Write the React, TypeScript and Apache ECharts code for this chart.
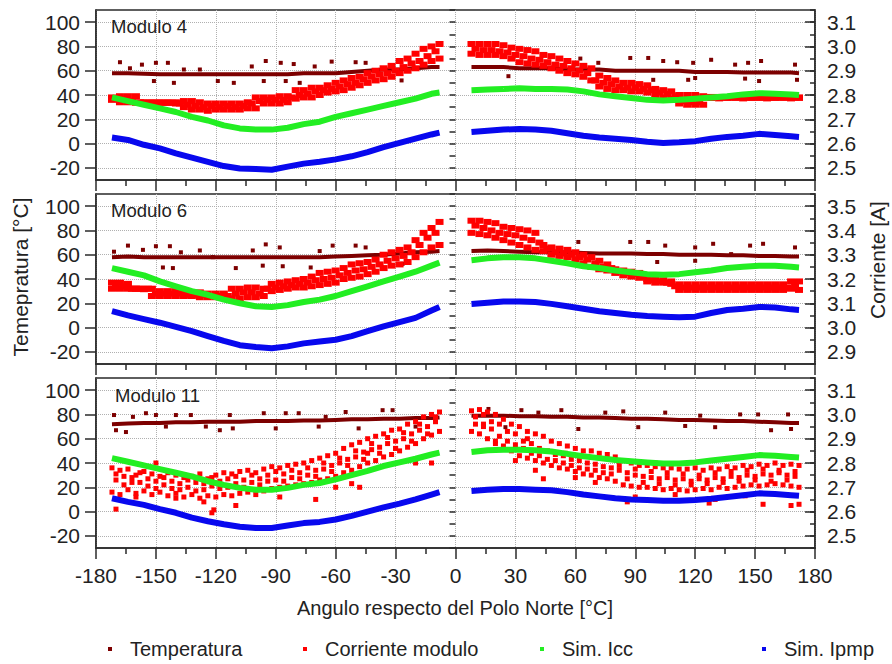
import React, { useEffect, useRef } from "react";
import * as echarts from "echarts";

const FONT = "'Liberation Sans', Arial, Helvetica, sans-serif";

// ---------- x positions (degrees from the North Pole) ----------
const xLine = [-172,-164,-156,-148,-140,-132,-124,-116,-108,-100,-92,-84,-76,-68,-60,-52,-44,-36,-28,-20,-12,-8,
  8,16,24,32,40,48,56,64,72,80,88,96,104,112,120,128,136,144,152,160,168,172];
const xsA = [-172,-168,-164,-160,-156,-152,-148,-144,-140,-136,-132,-128,-124,-120,-116,-112,-108,-104,-100,-96,-92,-88,-84,-80,-76,-72,-68,-64,-60,-56,-52,-48,-44,-40,-36,-32,-28,-24,-20,-16,-12,-8,
  8,12,16,20,24,28,32,36,40,44,48,52,56,60,64,68,72,76,80,84,88,92,96,100,104,108,112,116,120,124,128,132,136,140,144,148,152,156,160,164,168,172];
const xsB = [-170,-166,-162,-158,-154,-150,-146,-142,-138,-134,-130,-126,-122,-118,-114,-110,-106,-102,-98,-94,-90,-86,-82,-78,-74,-70,-66,-62,-58,-54,-50,-46,-42,-38,-34,-30,-26,-22,-18,-14,-10,
  10,14,18,22,26,30,34,38,42,46,50,54,58,62,66,70,74,78,82,86,90,94,98,102,106,110,114,118,122,126,130,134,138,142,146,150,154,158,162,166,170];

// ---------- tick labels ----------
const xTickStep = 30;
const tempTicks = [-20, 0, 20, 40, 60, 80, 100];
const curTicksA = [2.5, 2.6, 2.7, 2.8, 2.9, 3.0, 3.1];
const curTicksB = [2.9, 3.0, 3.1, 3.2, 3.3, 3.4, 3.5];

// ---------- Modulo 4 ----------
const m4Temp = [58,58,57.5,57,57,57,57,57,57,57,57,57,58,58,58,59,60,61,61,62,63,63,
  63,63,63,62,62,62,61,61,61,60,60,60,60,60,59,59,59,58.5,58.5,58.5,58.5,58];
const m4Icc = [38,35,32,29,26,22,19,15,12.5,11.5,11.5,13,16,18,22,25,28,31,34,37,41,42,
  44,44.5,45,45.5,45,45,44.5,43,40.5,39,37.5,36,35.5,36,37,38,39,40.5,41.5,41,40.5,40];
const m4Ipmp = [5,3,-1,-4,-8,-11.5,-15,-18.5,-20.5,-21,-21.5,-19,-16.5,-15,-13,-10.5,-7,-3,0.5,4,7.5,9,
  9.5,10.5,11.5,12,11.5,10.5,8.5,6.5,5,4,3,1.5,0.5,1,2,4,5.5,6.5,8,7,6,5.5];
const m4CurHi = [2.79,2.795,2.795,2.795,2.77,2.77,2.77,2.77,2.77,2.775,2.775,2.77,2.765,2.765,2.765,2.765,2.765,2.77,2.79,2.79,2.79,2.795,2.795,2.82,2.82,2.83,2.83,2.84,2.85,2.86,2.87,2.875,2.89,2.9,2.91,2.92,2.94,2.95,2.97,2.99,3.0,3.01,
  3.01,3.01,3.01,3.01,3.005,2.995,2.99,2.985,2.98,2.965,2.96,2.95,2.94,2.93,2.92,2.91,2.88,2.87,2.86,2.85,2.85,2.845,2.84,2.825,2.82,2.815,2.8,2.8,2.8,2.795,2.792,2.792,2.79,2.792,2.792,2.79,2.792,2.792,2.79,2.792,2.792,2.79];
const m4CurLo = [2.78,2.77,2.77,2.768,2.768,2.768,2.768,2.768,2.765,2.75,2.74,2.74,2.735,2.74,2.74,2.74,2.74,2.745,2.745,2.765,2.765,2.765,2.77,2.785,2.79,2.79,2.8,2.81,2.815,2.82,2.83,2.84,2.85,2.86,2.865,2.875,2.89,2.9,2.91,2.925,2.94,2.95,
  2.97,2.965,2.965,2.965,2.96,2.95,2.935,2.93,2.925,2.92,2.91,2.9,2.89,2.885,2.875,2.86,2.835,2.825,2.82,2.82,2.815,2.815,2.81,2.8,2.79,2.785,2.765,2.76,2.76,2.76,2.788,2.786,2.788,2.788,2.786,2.788,2.788,2.786,2.788,2.788,2.786,2.788];
const m4CurMid = [2.785,2.78,2.775,2.77,2.768,2.768,2.768,2.768,2.765,2.76,2.755,2.75,2.755,2.75,2.755,2.75,2.755,2.765,2.775,2.78,2.78,2.78,2.79,2.8,2.805,2.815,2.82,2.825,2.835,2.845,2.85,2.865,2.875,2.885,2.89,2.9,2.915,2.93,2.94,2.96,2.98,
  2.99,2.985,2.985,2.98,2.975,2.965,2.96,2.95,2.945,2.935,2.925,2.92,2.91,2.9,2.89,2.86,2.85,2.845,2.835,2.83,2.83,2.825,2.82,2.81,2.805,2.795,2.775,2.77,2.77,2.79,2.79,2.79,2.79,2.79,2.79,2.79,2.79,2.79,2.79,2.79,2.79];
const m4TempOut = [[-168,67],[-163,62],[-157,65],[-150,66.5],[-151,51.5],[-144,66.5],[-141,50],[-136,61],[-128,61],[-119,51.5],[-111,50],[-102,63.5],[-95,68],[-87.5,66.5],[-96,51.5],[-85,51.5],[-81,65.5],[-62,67.5],[-50,67],[-45,66.5],[-27,52],[-70.5,63.5],[-78,50],
  [26.5,55.5],[62.5,70],[71.5,66.5],[87.5,70.5],[96.5,70.5],[104,68],[111,67],[116.5,52.5],[120,54],[119,66.5],[128,69],[140,65],[145,53.5],[146.5,66.5],[153,68],[152,51.5],[170,65],[171,52.5],[99,52.5]];

// ---------- Modulo 6 ----------
const m6Temp = [58,58.5,58,58,58,58,58,58,58,58,58,58,58,58,58.5,59,59.5,60,61,62,62.5,63,
  63,63.5,63,62.5,62,62,62,61.5,61,61,61,60.5,60.5,60,60,60,59.5,59.5,59,59,58.5,58.5];
const m6Icc = [49,46,43,38,34,30,27,23,20,17.5,17,18.5,21,23,26,30,34,38,42,46,51,53.5,
  55.5,57,58,58,57,55,53,50.5,49,47,45.5,44,43.5,44,45.5,47,49,50,51,51,50,49.5];
const m6Ipmp = [13.5,10,7,4,0.5,-3,-7,-11,-14.5,-16,-17,-15.5,-13,-11.5,-10,-7,-3,1,4.5,8,14,17,
  19.5,20.5,21.5,21.5,21,19.5,17.5,15.5,13.5,12,10.5,9.5,9,8.5,9,12,14.5,15.5,17,16.5,15,14.5];
const m6CurHi = [3.185,3.185,3.18,3.16,3.16,3.16,3.15,3.15,3.15,3.145,3.145,3.145,3.14,3.14,3.14,3.16,3.16,3.165,3.165,3.16,3.18,3.185,3.19,3.195,3.2,3.21,3.225,3.23,3.235,3.245,3.26,3.265,3.27,3.28,3.3,3.31,3.32,3.33,3.36,3.39,3.41,3.435,
  3.44,3.44,3.435,3.43,3.415,3.41,3.405,3.4,3.39,3.34,3.33,3.325,3.32,3.31,3.3,3.29,3.275,3.26,3.24,3.235,3.23,3.225,3.2,3.2,3.195,3.19,3.178,3.178,3.178,3.178,3.178,3.178,3.178,3.178,3.178,3.178,3.178,3.178,3.178,3.178,3.19,3.19];
const m6CurLo = [3.16,3.16,3.16,3.16,3.158,3.13,3.13,3.13,3.13,3.13,3.13,3.125,3.125,3.125,3.125,3.12,3.12,3.125,3.125,3.13,3.15,3.155,3.16,3.165,3.165,3.17,3.175,3.18,3.185,3.2,3.205,3.21,3.22,3.23,3.245,3.255,3.26,3.27,3.29,3.31,3.33,3.34,
  3.39,3.385,3.38,3.37,3.36,3.35,3.34,3.33,3.32,3.315,3.3,3.295,3.29,3.28,3.265,3.25,3.24,3.235,3.225,3.215,3.21,3.205,3.19,3.185,3.185,3.18,3.155,3.155,3.155,3.155,3.155,3.155,3.155,3.155,3.155,3.155,3.155,3.155,3.155,3.155,3.16,3.155];
const m6CurMid = [3.17,3.17,3.16,3.16,3.16,3.14,3.14,3.14,3.14,3.135,3.135,3.135,3.13,3.13,3.13,3.14,3.145,3.145,3.14,3.16,3.165,3.17,3.175,3.18,3.185,3.195,3.2,3.205,3.215,3.225,3.235,3.24,3.25,3.26,3.275,3.285,3.295,3.31,3.34,3.37,3.39,
  3.42,3.41,3.4,3.39,3.385,3.38,3.37,3.36,3.35,3.325,3.31,3.305,3.3,3.29,3.28,3.265,3.25,3.245,3.23,3.225,3.22,3.21,3.195,3.19,3.185,3.17,3.165,3.165,3.165,3.165,3.165,3.165,3.165,3.165,3.165,3.165,3.165,3.165,3.165,3.165,3.17];
const m6TempOut = [[-171,62.5],[-164,67.5],[-156.5,64],[-150,67],[-146.5,49.5],[-143,67],[-141.5,49],[-137.5,62],[-128,63.5],[-121.5,58],[-110,49],[-101.5,63.5],[-95,68.5],[-88,66],[-86.5,50.5],[-96.5,51],[-68,63],[-61.5,67.5],[-50,67.5],[-45,66],[-26.5,52.5],[-72.5,49.5],
  [61.5,70.5],[87.5,70.5],[96.5,70.5],[105,67.5],[101,54],[120,55],[120,66],[129,69],[138,60.5],[147.5,67.5],[154,69],[170,66],[60,54]];

// ---------- Modulo 11 ----------
const m11Temp = [72,72.5,73,73,73.5,73.5,74,74,74,74.5,74.5,74.5,75,75,75.5,76,76,76.5,76.5,77,77,77.5,
  79,79,79,78.5,78.5,78,78,77.5,77.5,77,76.5,76.5,76,75.5,75.5,75,74.5,74.5,74,73.5,73,73];
const m11Icc = [44,41,38,35,32,29,25,22,19.5,18,18,19.5,22,23.5,26.5,30,33.5,37.5,40.5,43.5,47,48.5,
  49,50.5,51,51,50.5,49.5,47.5,45.5,44,42.5,41.5,40.5,39.5,39.5,40.5,42,43.5,45,46.5,46,45,44.5];
const m11Ipmp = [11,8,5.5,2,-1,-5,-8,-10.5,-12.5,-13.5,-13.5,-11.5,-9.5,-8.5,-6.5,-3.5,0,3.5,6.5,10,14,16,
  17,18,18.5,18.5,18,17.5,16,14,12.5,11,10,9.5,9,9,9.5,10.5,12,13.5,15,14.5,13.5,13];
const m11CurHi = [2.78,2.77,2.775,2.75,2.765,2.755,2.745,2.76,2.75,2.74,2.745,2.755,2.735,2.75,2.76,2.755,2.765,2.77,2.76,2.775,2.785,2.78,2.79,2.795,2.8,2.81,2.82,2.83,2.84,2.86,2.875,2.885,2.9,2.91,2.92,2.935,2.94,2.96,2.97,2.99,3.0,3.01,
  3.015,3.02,3.01,3.0,2.98,2.96,2.95,2.93,2.92,2.91,2.89,2.88,2.87,2.86,2.85,2.85,2.84,2.835,2.825,2.81,2.8,2.79,2.79,2.785,2.78,2.78,2.775,2.775,2.78,2.77,2.78,2.775,2.785,2.78,2.79,2.785,2.795,2.79,2.8,2.79,2.795,2.79];
const m11CurLo = [2.68,2.67,2.69,2.675,2.685,2.67,2.68,2.665,2.675,2.66,2.67,2.655,2.665,2.66,2.67,2.665,2.675,2.68,2.69,2.685,2.695,2.7,2.705,2.71,2.715,2.72,2.73,2.735,2.745,2.76,2.77,2.785,2.8,2.81,2.825,2.835,2.85,2.865,2.88,2.9,2.915,2.93,
  2.93,2.92,2.9,2.89,2.87,2.85,2.83,2.82,2.81,2.8,2.79,2.78,2.775,2.765,2.755,2.75,2.74,2.735,2.725,2.71,2.705,2.7,2.7,2.695,2.69,2.695,2.69,2.685,2.69,2.695,2.69,2.7,2.695,2.7,2.705,2.71,2.705,2.71,2.715,2.71,2.705,2.7];
const m11CurMidA = [2.73,2.71,2.74,2.72,2.705,2.725,2.71,2.695,2.715,2.7,2.72,2.69,2.705,2.725,2.7,2.715,2.73,2.72,2.735,2.75,2.73,2.755,2.74,2.76,2.75,2.77,2.775,2.79,2.8,2.815,2.825,2.845,2.855,2.865,2.88,2.89,2.9,2.92,2.935,2.95,2.97,
  2.99,3.0,2.97,2.96,2.93,2.92,2.89,2.88,2.86,2.85,2.835,2.83,2.815,2.81,2.8,2.795,2.785,2.78,2.77,2.76,2.75,2.745,2.74,2.735,2.74,2.73,2.735,2.725,2.735,2.73,2.74,2.735,2.745,2.74,2.75,2.745,2.755,2.75,2.76,2.75,2.745];
const m11CurMidB = [2.755,2.745,2.72,2.76,2.735,2.695,2.74,2.725,2.69,2.73,2.685,2.715,2.74,2.695,2.735,2.745,2.7,2.75,2.71,2.725,2.765,2.725,2.77,2.735,2.78,2.745,2.8,2.765,2.82,2.79,2.85,2.815,2.88,2.84,2.905,2.86,2.925,2.89,2.96,2.92,2.99,
  2.96,2.95,2.94,2.91,2.89,2.875,2.86,2.84,2.83,2.815,2.81,2.8,2.79,2.78,2.775,2.77,2.76,2.755,2.79,2.735,2.775,2.72,2.765,2.715,2.76,2.71,2.755,2.71,2.75,2.715,2.76,2.72,2.765,2.725,2.77,2.73,2.775,2.725,2.77,2.73,2.765];
const m11CurOut = [[-170,2.61],[-122,2.595],[-121,2.607],[-126,2.64],[-70,2.65],[-88,2.66],[-48,2.7],[-52,2.715],[-60,2.7],[-100,2.67],[-140,2.655],[-160,2.66],[-20,2.8],[-12,2.8],[-30,2.86],[-44,2.84],[-150,2.8],[-110,2.625],
  [30,2.81],[40,2.77],[44,2.735],[60,2.74],[70,2.72],[86,2.64],[90,2.66],[127,2.635],[130,2.65],[154,2.63],[168,2.625],[172,2.63],[110,2.67],[145,2.665],[20,2.88],[14,2.96],[36,2.9],[55,2.84],[100,2.8]];
const m11TempOut = [[-171,79.5],[-170,67],[-165,65.5],[-161.5,78],[-155,81],[-150,79.5],[-145,70],[-140,79.5],[-132.5,79.5],[-125,70],[-118,67],[-113,79.5],[-111.5,68.5],[-96,81],[-90,68.5],[-85,81],[-78.5,81],[-68.5,70],[-65,78],[-55,82],[-48.5,68.5],[-36.5,83.5],[-31.5,83.5],[-20,70],
  [33,83.5],[41.5,81.5],[53,83.5],[61.5,68],[75,81.5],[84,82.5],[91.5,69.5],[105,81.5],[115,70.5],[122.5,79],[130,69.5],[142.5,80],[151.5,80],[166.5,80],[158,67],[168,68],[25,69.5],[16.5,84.5]];

const COLORS = { temp: "#7d0000", cur: "#ff0000", icc: "#22ee22", ipmp: "#0808ee" };

type Panel = {
  label: string; labelX: number; labelY: number;
  temp: number[]; tempOut: number[][]; icc: number[]; ipmp: number[];
  cur: [number[], number[]][]; curOut: number[][]; curSize: number[];
  rMin: number; rMax: number; rTicks: number[];
};

const panels: Panel[] = [
  { label: "Modulo 4", labelX: 111, labelY: 27, temp: m4Temp, tempOut: m4TempOut, icc: m4Icc, ipmp: m4Ipmp,
    cur: [[xsA, m4CurHi], [xsA, m4CurLo], [xsB, m4CurMid]], curOut: [], curSize: [8, 6],
    rMin: 2.45, rMax: 3.15, rTicks: curTicksA },
  { label: "Modulo 6", labelX: 111, labelY: 211, temp: m6Temp, tempOut: m6TempOut, icc: m6Icc, ipmp: m6Ipmp,
    cur: [[xsA, m6CurHi], [xsA, m6CurLo], [xsB, m6CurMid]], curOut: [], curSize: [8, 6],
    rMin: 2.85, rMax: 3.55, rTicks: curTicksB },
  { label: "Modulo 11", labelX: 115, labelY: 396, temp: m11Temp, tempOut: m11TempOut, icc: m11Icc, ipmp: m11Ipmp,
    cur: [[xsA, m11CurHi], [xsA, m11CurLo], [xsB, m11CurMidA], [xsB, m11CurMidB]], curOut: m11CurOut, curSize: [5, 5],
    rMin: 2.45, rMax: 3.15, rTicks: curTicksA },
];

const GRID_LEFT = 96;
const GRID_WIDTH = 719;
const GRID_TOPS = [10, 194, 378];
const GRID_HEIGHT = 170;

function pairs(xs: number[], ys: number[]) {
  const out: any[] = [];
  for (let i = 0; i < xs.length && i < ys.length; i++) out.push([xs[i], ys[i]]);
  return out;
}
function withGap(pts: any[]) {
  const out: any[] = [];
  for (let i = 0; i < pts.length; i++) {
    if (i > 0 && pts[i - 1][0] < 0 && pts[i][0] > 0) out.push([0, "-"]);
    out.push(pts[i]);
  }
  return out;
}

function buildOption() {
  const axisColor = "#2a2a2a";
  const grids: any[] = [];
  const xAxes: any[] = [];
  const yAxes: any[] = [];
  const series: any[] = [];
  const graphics: any[] = [];

  panels.forEach((p, i) => {
    grids.push({ left: GRID_LEFT, top: GRID_TOPS[i], width: GRID_WIDTH, height: GRID_HEIGHT, show: true,
      borderColor: axisColor, borderWidth: 1.5, backgroundColor: "transparent", containLabel: false });
    xAxes.push({
      type: "value", gridIndex: i, min: -180, max: 180, interval: xTickStep,
      axisLine: { show: true, onZero: false, lineStyle: { color: axisColor, width: 1.5 } },
      axisTick: { show: true, length: 11, lineStyle: { color: axisColor, width: 1.5 } },
      minorTick: { show: true, splitNumber: 2, length: 6, lineStyle: { color: axisColor, width: 1.5 } },
      axisLabel: { show: i === 2, fontSize: 21, color: "#222", margin: 17, fontFamily: FONT },
      splitLine: { show: true, lineStyle: { type: "dotted", color: "#b0b0b0", width: 1 } },
    });
    yAxes.push({
      type: "value", gridIndex: i, position: "left", min: -30, max: 110,
      axisLine: { show: true, onZero: false, lineStyle: { color: axisColor, width: 1.5 } },
      axisTick: { show: true, length: 11, customValues: tempTicks, lineStyle: { color: axisColor, width: 1.5 } },
      axisLabel: { show: true, customValues: tempTicks, fontSize: 21, color: "#222", margin: 16, fontFamily: FONT },
      splitLine: { show: true, lineStyle: { type: "dotted", color: "#b0b0b0", width: 1 } },
    });
    yAxes.push({
      type: "value", gridIndex: i, position: "left", min: -30, max: 110, interval: 10,
      axisLine: { show: false }, axisLabel: { show: false }, splitLine: { show: false },
      axisTick: { show: true, length: 6, lineStyle: { color: axisColor, width: 1.5 } },
    });
    yAxes.push({
      type: "value", gridIndex: i, position: "right", min: p.rMin, max: p.rMax,
      axisLine: { show: true, onZero: false, lineStyle: { color: axisColor, width: 1.5 } },
      axisTick: { show: true, inside: true, length: 10, customValues: p.rTicks, lineStyle: { color: axisColor, width: 1.5 } },
      axisLabel: { show: true, customValues: p.rTicks, fontSize: 21, color: "#222", margin: 12, fontFamily: FONT,
        formatter: (v: number) => v.toFixed(1) },
      splitLine: { show: false },
    });
    yAxes.push({
      type: "value", gridIndex: i, position: "right", min: p.rMin, max: p.rMax, interval: 0.05,
      axisLine: { show: false }, axisLabel: { show: false }, splitLine: { show: false },
      axisTick: { show: true, inside: true, length: 5, lineStyle: { color: axisColor, width: 1.5 } },
    });

    const yL = i * 4;
    const yR = i * 4 + 2;
    series.push({
      name: "Temperatura", type: "line", xAxisIndex: i, yAxisIndex: yL,
      data: withGap(pairs(xLine, p.temp)), showSymbol: false, connectNulls: false,
      lineStyle: { width: 4, color: COLORS.temp }, itemStyle: { color: COLORS.temp }, z: 2,
    });
    series.push({
      name: "Temperatura", type: "scatter", xAxisIndex: i, yAxisIndex: yL,
      data: p.tempOut, symbol: "rect", symbolSize: 4, itemStyle: { color: COLORS.temp, opacity: 1 }, z: 2,
    });
    let curData: any[] = [];
    p.cur.forEach(([xs, ys]) => { curData = curData.concat(pairs(xs, ys)); });
    curData = curData.concat(p.curOut);
    series.push({
      name: "Corriente modulo", type: "scatter", xAxisIndex: i, yAxisIndex: yR,
      data: curData, symbol: "rect", symbolSize: p.curSize, itemStyle: { color: COLORS.cur, opacity: 1 }, z: 3,
    });
    series.push({
      name: "Sim. Icc", type: "line", xAxisIndex: i, yAxisIndex: yL,
      data: withGap(pairs(xLine, p.icc)), showSymbol: false, connectNulls: false,
      lineStyle: { width: 6, color: COLORS.icc }, itemStyle: { color: COLORS.icc }, z: 4,
    });
    series.push({
      name: "Sim. Ipmp", type: "line", xAxisIndex: i, yAxisIndex: yL,
      data: withGap(pairs(xLine, p.ipmp)), showSymbol: false, connectNulls: false,
      lineStyle: { width: 6, color: COLORS.ipmp }, itemStyle: { color: COLORS.ipmp }, z: 5,
    });

    graphics.push({
      type: "text", left: p.labelX, top: p.labelY - 10, z: 10,
      style: { text: p.label, font: `18.5px ${FONT}`, fill: "#222" },
    });
  });

  graphics.push({
    type: "text", x: 20, y: 277, rotation: Math.PI / 2, z: 10,
    style: { text: "Temepratura [°C]", font: `21px ${FONT}`, fill: "#222", align: "center", verticalAlign: "middle",
      textAlign: "center", textVerticalAlign: "middle" },
  });
  graphics.push({
    type: "text", x: 877, y: 260, rotation: Math.PI / 2, z: 10,
    style: { text: "Corriente [A]", font: `21px ${FONT}`, fill: "#222", align: "center", verticalAlign: "middle",
      textAlign: "center", textVerticalAlign: "middle" },
  });
  graphics.push({
    type: "text", x: 455, y: 608, z: 10,
    style: { text: "Angulo respecto del Polo Norte [°C]", font: `20px ${FONT}`, fill: "#222", align: "center",
      verticalAlign: "middle", textAlign: "center", textVerticalAlign: "middle" },
  });

  const legendCommon = {
    icon: "rect", itemWidth: 4, itemHeight: 4, selectedMode: false, padding: 0, top: 639,
    textStyle: { fontSize: 20, color: "#222", fontFamily: FONT, padding: [0, 0, 0, 13] },
  };
  const legends = [
    { ...legendCommon, data: ["Temperatura"], left: 108 },
    { ...legendCommon, data: ["Corriente modulo"], left: 303 },
    { ...legendCommon, data: ["Sim. Icc"], left: 540 },
    { ...legendCommon, data: ["Sim. Ipmp"], left: 762 },
  ];

  return {
    animation: false,
    backgroundColor: "#ffffff",
    textStyle: { fontFamily: FONT },
    grid: grids,
    xAxis: xAxes,
    yAxis: yAxes,
    legend: legends,
    series,
    graphic: graphics,
  };
}

export default function App() {
  const ref = useRef<HTMLDivElement>(null);
  useEffect(() => {
    document.body.style.margin = "0";
    if (!ref.current) return;
    const chart = echarts.init(ref.current, undefined, { renderer: "svg" });
    chart.setOption(buildOption() as any);
    return () => chart.dispose();
  }, []);
  return <div ref={ref} style={{ width: 892, height: 664 }} />;
}
